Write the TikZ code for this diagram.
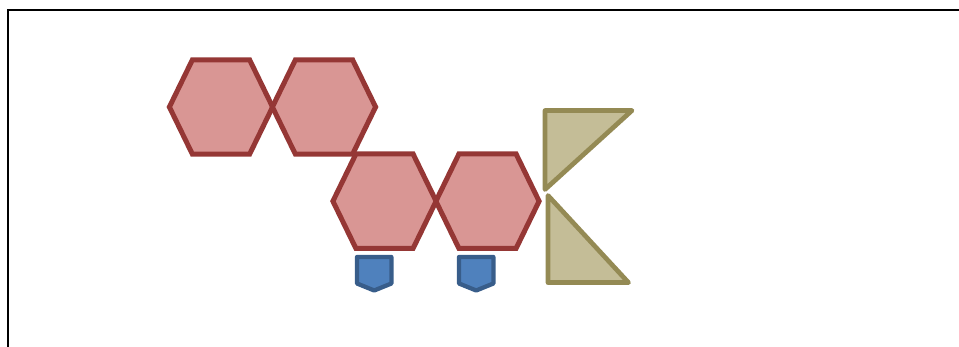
\documentclass[tikz,border=0pt]{standalone}
\definecolor{hexfill}{HTML}{D99694}
\definecolor{hexline}{HTML}{953735}
\definecolor{penfill}{HTML}{4F81BD}
\definecolor{penline}{HTML}{385D8A}
\definecolor{trifill}{HTML}{C4BD97}
\definecolor{triline}{HTML}{948A54}
\tikzset{
  hexstyle/.style={fill=hexfill, draw=hexline, line width=5pt, line join=miter},
  penstyle/.style={fill=penfill, draw=penline, line width=4.3pt, line join=round},
  tristyle/.style={fill=trifill, draw=triline, line width=4.7pt, line join=round},
  framestyle/.style={draw=black, line width=2pt},
}
\newcommand{\myhex}[2]{%
  \draw[hexstyle] (#1-51.6,#2) -- (#1-28.6,#2-47.2) -- (#1+28.6,#2-47.2) -- (#1+51.6,#2) -- (#1+28.6,#2+47.2) -- (#1-28.6,#2+47.2) -- cycle;}
\newcommand{\mypent}[1]{%
  \draw[penstyle] (#1-17.2,257) -- (#1+17.2,257) -- (#1+17.2,283.5) -- (#1,290.5) -- (#1-17.2,283.5) -- cycle;}
\begin{document}
\begin{tikzpicture}[x=1pt,y=-1pt]
\useasboundingbox (0,0) rectangle (959,347);
\draw[framestyle] (8,349) -- (8,10) -- (961,10);
\myhex{221}{107}
\myhex{324}{107}
\myhex{384.5}{201.2}
\myhex{487.5}{201.2}
\mypent{374.2}
\mypent{476.2}
\draw[tristyle] (545,110.5) -- (632,110.5) -- (545,189.5) -- cycle;
\draw[tristyle] (548,195.5) -- (628.5,282.6) -- (548,282.6) -- cycle;
\end{tikzpicture}
\end{document}
